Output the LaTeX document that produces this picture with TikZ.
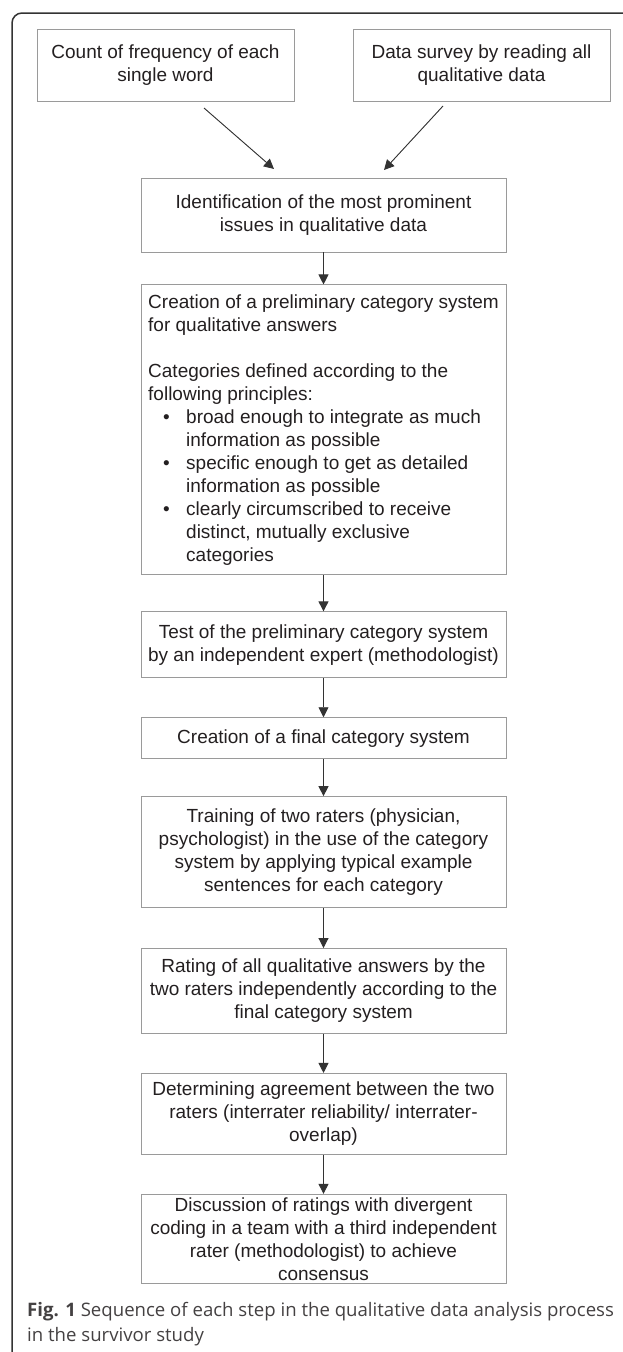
\documentclass[tikz,border=0pt]{standalone}
\usepackage{fontspec}
\setmainfont{Liberation Sans}
\newfontfamily\capfont{Open Sans}
\usetikzlibrary{positioning,arrows.meta}
\definecolor{boxgray}{HTML}{9A9A9A}
\definecolor{inkgray}{HTML}{231F20}
\definecolor{linegray}{HTML}{333333}

\begin{document}
\begin{tikzpicture}[x=1pt,y=1pt]
\tikzstyle{stepbox}=[rectangle, draw=boxgray, line width=0.9pt, text=inkgray, align=center, inner sep=0pt, font=\fontsize{19}{23}\selectfont]
\tikzstyle{wide}=[stepbox, minimum width=365pt]
\tikzstyle{narrow}=[stepbox, minimum width=257pt]
\tikzstyle{connect}=[-{Triangle[width=10pt,length=10pt]}, line width=0.9pt, draw=linegray, fill=linegray]
\useasboundingbox (0,0) rectangle (622,-1352);
% outer frame
\draw[linegray, line width=1.5pt, rounded corners=10pt] (640,-13) -- (12,-13) -- (12,-1364) -- (640,-1364);
  \node[narrow, minimum height=72pt] (count) at (165.5,-65) {Count of frequency of each\\single word};
  \node[narrow, minimum height=72pt] (survey) at (481.5,-65) {Data survey by reading all\\qualitative data};
  \node[wide, minimum height=74pt] (ident) at (323.5,-215) {Identification of the most prominent\\issues in qualitative data};
  \node[wide, minimum height=290pt, align=left] (prelim) [below=32pt of ident] {Creation of a preliminary category system\\for qualitative answers\\[23pt]Categories defined according to the\\following principles:\\
\hspace*{15pt}\makebox[23pt][l]{\textbullet}broad enough to integrate as much\\
\hspace*{38pt}information as possible\\
\hspace*{15pt}\makebox[23pt][l]{\textbullet}specific enough to get as detailed\\
\hspace*{38pt}information as possible\\
\hspace*{15pt}\makebox[23pt][l]{\textbullet}clearly circumscribed to receive\\
\hspace*{38pt}distinct, mutually exclusive\\
\hspace*{38pt}categories};
  \node[wide, minimum height=66pt] (test) [below=36pt of prelim] {Test of the preliminary category system\\by an independent expert (methodologist)};
  \node[wide, minimum height=41pt] (final) [below=39pt of test] {Creation of a final category system};
  \node[wide, minimum height=111pt] (train) [below=37pt of final] {Training of two raters (physician,\\psychologist) in the use of the category\\system by applying typical example\\sentences for each category};
  \node[wide, minimum height=85pt] (rating) [below=40pt of train] {Rating of all qualitative answers by the\\two raters independently according to the\\final category system};
  \node[wide, minimum height=81pt] (agree) [below=39pt of rating] {Determining agreement between the two\\raters (interrater reliability/ interrater-\\overlap)};
  \node[wide, minimum height=89pt] (discuss) [below=39pt of agree] {Discussion of ratings with divergent\\coding in a team with a third independent\\rater (methodologist) to achieve\\consensus};
  \node[anchor=north west, align=left, inner sep=0pt, text=inkgray!85!white, font=\capfont\fontsize{18.6}{25}\selectfont] (caption) at (27,-1302.5) {\textbf{Fig. 1} Sequence of each step in the qualitative data analysis process\\in the survivor study};
% free ends of the two slanted arrows
\coordinate (c1) at (204,-108);
\coordinate (c2) at (274,-169);
\coordinate (s1) at (443,-106);
\coordinate (s2) at (384,-170);
  \path (c1) edge [connect] (c2)
        (s1) edge [connect] (s2)
        (ident) edge [connect] (prelim)
        (prelim) edge [connect] (test)
        (test) edge [connect] (final)
        (final) edge [connect] (train)
        (train) edge [connect] (rating)
        (rating) edge [connect] (agree)
        (agree) edge [connect] (discuss);
\end{tikzpicture}
\end{document}
